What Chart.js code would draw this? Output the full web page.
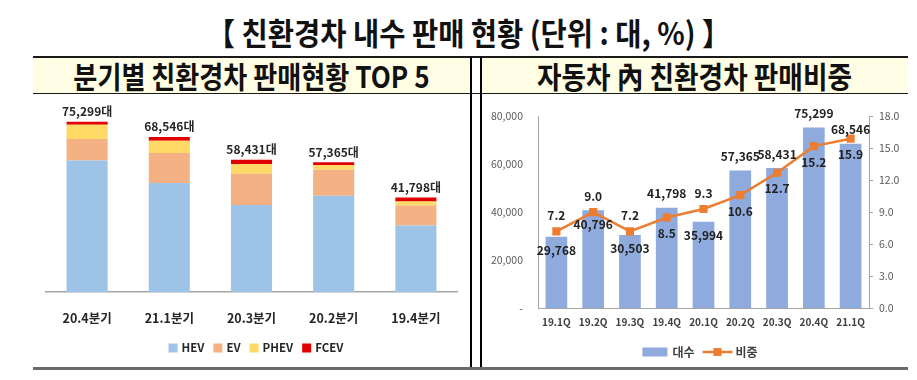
<!DOCTYPE html>
<html><head><meta charset="utf-8">
<script src="https://cdn.jsdelivr.net/npm/chart.js@4.4.1/dist/chart.umd.min.js"></script>
<style>
html,body{margin:0;padding:0;background:#fff;width:917px;height:380px;overflow:hidden;font-family:'Noto Sans CJK KR','Noto Sans',sans-serif;}
.abs{position:absolute;}
.txt{position:absolute;white-space:nowrap;font-weight:700;color:#111;transform-origin:center center;text-align:center;}
#title{left:10px;width:917px;top:14px;font-size:31px;line-height:36px;transform:scaleX(0.92);}
.hdr{top:55px;font-size:30px;line-height:40px;}
#h1{left:33px;width:437px;transform:scaleX(0.87);}
#h2{left:481px;width:427px;transform:scaleX(0.89);}
.fill{background:#FFFDE3;top:58px;height:35px;}
.hline{background:#1a1a1a;}
.vline{background:#000;width:2px;top:57px;height:311px;}
</style></head>
<body>
<div class="abs fill" style="left:33px;width:437px;"></div>
<div class="abs fill" style="left:482px;width:426px;"></div>
<div class="abs hline" style="left:33px;width:875px;top:56px;height:2px;"></div>
<div class="abs hline" style="left:33px;width:875px;top:93px;height:1px;"></div>
<div class="abs vline" style="left:470px;"></div>
<div class="abs vline" style="left:480px;"></div>
<div class="abs" style="left:33px;width:875px;top:367px;height:3px;background:#6b6b6b;"></div>
<div class="txt" id="title">【 친환경차 내수 판매 현황 (단위 : 대, %) 】</div>
<div class="txt hdr" id="h1">분기별 친환경차 판매현황 TOP 5</div>
<div class="txt hdr" id="h2">자동차 內 친환경차 판매비중</div>
<canvas id="c1" class="abs" width="437" height="271" style="left:33px;top:95px;"></canvas>
<canvas id="c2" class="abs" width="427" height="271" style="left:481px;top:95px;"></canvas>
<script>
// ---- Left chart data: top 5 quarters by eco-friendly car sales
const top5Quarters = ['20.4분기', '21.1분기', '20.3분기', '20.2분기', '19.4분기'];
const hevSales  = [58150, 48140, 38400, 42520, 29370];
const evSales   = [9480, 13290, 13870, 11510, 8860];
const phevSales = [6340, 5460, 4290, 2080, 1770];
const fcevSales = [1329, 1656, 1871, 1255, 1798];
const top5Totals = [75299, 68546, 58431, 57365, 41798];
const typeNames = ['HEV', 'EV', 'PHEV', 'FCEV'];

// ---- Right chart data: quarterly eco-friendly sales and share
const quarters = ['19.1Q', '19.2Q', '19.3Q', '19.4Q', '20.1Q', '20.2Q', '20.3Q', '20.4Q', '21.1Q'];
const ecoSales = [29768, 40796, 30503, 41798, 35994, 57365, 58431, 75299, 68546];
const ecoShare = [7.2, 9.0, 7.2, 8.5, 9.3, 10.6, 12.7, 15.2, 15.9];
const salesTicks = [0, 20000, 40000, 60000, 80000];
const shareTicks = [0, 3, 6, 9, 12, 15, 18];
const seriesNames = ['대수', '비중'];

// label placement (style only)
const salesLabelPlace = ['in', 'in', 'in', 'out', 'in', 'out', 'out', 'out', 'out'];
const shareLabelPlace = ['up', 'up', 'up', 'down', 'up', 'down', 'down', 'down', 'down'];

const FONT = "'Noto Sans CJK KR','Noto Sans',sans-serif";
Chart.defaults.font.family = FONT;
const fmt = v => v.toLocaleString('en-US');

const leftColors = ['#9DC3E6', '#F4B183', '#FFD966', '#E00000'];
const leftSeries = [hevSales, evSales, phevSales, fcevSales];

new Chart(document.getElementById('c1'), {
  type: 'bar',
  data: {
    labels: top5Quarters,
    datasets: leftSeries.map((arr, i) => ({
      label: typeNames[i], data: arr, backgroundColor: leftColors[i],
      barPercentage: 0.5, categoryPercentage: 1.0, borderWidth: 0
    }))
  },
  options: {
    responsive: false, animation: false, devicePixelRatio: 1,
    layout: { padding: { left: 13, right: 13, top: 16, bottom: 0 } },
    plugins: { legend: { display: false }, tooltip: { enabled: false } },
    scales: {
      x: {
        stacked: true,
        grid: { display: false, drawTicks: false },
        border: { display: true, color: '#A6A6A6', width: 1.5 },
        ticks: { font: { size: 12.5, weight: 'bold' }, color: '#262626', padding: 19 },
        afterFit: a => { a.height = 74; }
      },
      y: { stacked: true, display: false, min: 0, max: 80000 }
    }
  },
  plugins: [{
    id: 'leftLabels',
    afterDatasetsDraw(chart) {
      const ctx = chart.ctx, y = chart.scales.y, x = chart.scales.x;
      ctx.save();
      ctx.font = "bold 12px " + FONT;
      ctx.fillStyle = '#262626';
      ctx.textAlign = 'center'; ctx.textBaseline = 'middle';
      top5Totals.forEach((t, i) => {
        ctx.fillText(fmt(t) + '대', x.getPixelForValue(i), y.getPixelForValue(t) - 10);
      });
      ctx.restore();
    },
    afterDraw(chart) {
      const ctx = chart.ctx;
      ctx.save();
      ctx.font = "bold 11.5px " + FONT;
      ctx.textBaseline = 'middle';
      const box = 9, gap = 4, itemGap = 9;
      const widths = typeNames.map(n => box + gap + ctx.measureText(n).width);
      const total = widths.reduce((a, b) => a + b, 0) + itemGap * (typeNames.length - 1);
      let cx = 223 - total / 2;
      const cy = 253;
      typeNames.forEach((n, i) => {
        ctx.fillStyle = leftColors[i];
        ctx.fillRect(cx, cy - box / 2, box, box);
        ctx.fillStyle = '#262626';
        ctx.fillText(n, cx + box + gap, cy);
        cx += widths[i] + itemGap;
      });
      ctx.restore();
    }
  }]
});

new Chart(document.getElementById('c2'), {
  type: 'bar',
  data: {
    labels: quarters,
    datasets: [
      { type: 'bar', label: seriesNames[0], data: ecoSales, backgroundColor: '#8FAADC',
        barPercentage: 0.59, categoryPercentage: 1.0, yAxisID: 'y', order: 2 },
      { type: 'line', label: seriesNames[1], data: ecoShare, borderColor: '#ED7D31', borderWidth: 2.5,
        pointStyle: 'rect', pointRadius: 4, pointBackgroundColor: '#ED7D31', pointBorderColor: '#ED7D31',
        tension: 0, yAxisID: 'y1', order: 1 }
    ]
  },
  options: {
    responsive: false, animation: false, devicePixelRatio: 1,
    layout: { padding: { left: 0, right: 0, top: 16, bottom: 0 } },
    plugins: { legend: { display: false }, tooltip: { enabled: false } },
    scales: {
      x: {
        grid: { display: false, drawTicks: false },
        border: { display: true, color: '#A6A6A6', width: 1 },
        ticks: { font: { size: 10, weight: 'bold' }, color: '#404040', padding: 8 },
        afterFit: a => { a.height = 58; }
      },
      y: {
        position: 'left', min: 0, max: 80000,
        afterBuildTicks: a => { a.ticks = salesTicks.map(v => ({ value: v })); },
        grid: { display: false, drawTicks: false },
        border: { display: true, color: '#A6A6A6', width: 1 },
        ticks: { font: { size: 10.5 }, color: '#595959', padding: 15,
                 callback: v => v === 0 ? '-' : fmt(v) },
        afterFit: a => { a.width = 57; }
      },
      y1: {
        position: 'right', min: 0, max: 18,
        afterBuildTicks: a => { a.ticks = shareTicks.map(v => ({ value: v })); },
        grid: { display: true, drawOnChartArea: false, drawTicks: true, tickLength: 4, color: '#A6A6A6' },
        border: { display: true, color: '#A6A6A6', width: 1 },
        ticks: { font: { size: 10.5 }, color: '#595959', padding: 6,
                 callback: v => Number(v).toFixed(1) },
        afterFit: a => { a.width = 39; }
      }
    }
  },
  plugins: [{
    id: 'rightLabels',
    afterDatasetsDraw(chart) {
      const ctx = chart.ctx;
      const bars = chart.getDatasetMeta(0).data, pts = chart.getDatasetMeta(1).data;
      ctx.save();
      ctx.font = "bold 12px " + FONT;
      ctx.fillStyle = '#222';
      ctx.textAlign = 'center'; ctx.textBaseline = 'middle';
      bars.forEach((el, i) => {
        ctx.fillText(fmt(ecoSales[i]), el.x, el.y + (salesLabelPlace[i] === 'in' ? 14 : -14));
      });
      pts.forEach((el, i) => {
        ctx.fillText(ecoShare[i].toFixed(1), el.x, el.y + (shareLabelPlace[i] === 'up' ? -16 : 16));
      });
      ctx.restore();
    },
    afterDraw(chart) {
      const ctx = chart.ctx;
      ctx.save();
      ctx.font = "600 12px " + FONT;
      ctx.textBaseline = 'middle';
      const cy = 257;
      const w1 = ctx.measureText(seriesNames[0]).width, w2 = ctx.measureText(seriesNames[1]).width;
      const total = 25 + 5 + w1 + 8 + 30 + 3 + w2;
      let cx = 219 - total / 2;
      ctx.fillStyle = '#8FAADC';
      ctx.fillRect(cx, cy - 4.5, 25, 9);
      cx += 30;
      ctx.fillStyle = '#404040';
      ctx.fillText(seriesNames[0], cx, cy);
      cx += w1 + 8;
      ctx.strokeStyle = '#ED7D31'; ctx.lineWidth = 2.5;
      ctx.beginPath(); ctx.moveTo(cx, cy); ctx.lineTo(cx + 30, cy); ctx.stroke();
      ctx.fillStyle = '#ED7D31';
      ctx.fillRect(cx + 15 - 4, cy - 4, 8, 8);
      cx += 33;
      ctx.fillStyle = '#404040';
      ctx.fillText(seriesNames[1], cx, cy);
      ctx.restore();
    }
  }]
});
</script>
</body></html>
